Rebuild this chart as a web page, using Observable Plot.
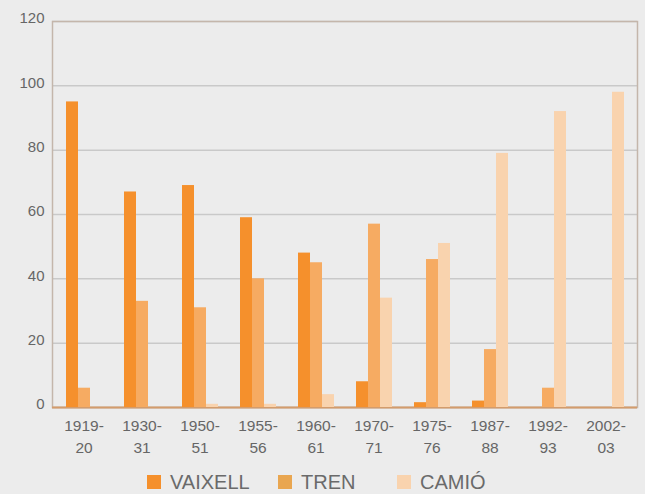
<!DOCTYPE html>
<html>
<head>
<meta charset="utf-8">
<script src="https://cdn.jsdelivr.net/npm/d3@7"></script>
<script src="https://cdn.jsdelivr.net/npm/@observablehq/plot@0.6"></script>
<style>
  html, body { margin: 0; padding: 0; background: #ececec; }
  body { width: 645px; height: 494px; overflow: hidden; font-family: "Liberation Sans", Arial, sans-serif; }
  #wrap { position: relative; width: 645px; height: 460px; }
  #wrap svg { position: absolute; left: 0; top: 0; }
  #legend { position: relative; height: 34px; color: #6a6a6a; font-size: 20px; }
  .item { position: absolute; top: 12px; display: flex; align-items: center; line-height: 20px; }
  .sw { width: 14px; height: 14px; margin-right: 9px; }
</style>
</head>
<body>
<div id="wrap"></div>
<div id="legend"></div>
<script>
const years = ["1919-20","1930-31","1950-51","1955-56","1960-61","1970-71","1975-76","1987-88","1992-93","2002-03"];
const series = ["VAIXELL","TREN","CAMIÓ"];
const vaixell = [95, 67, 69, 59, 48, 8, 1.5, 2, 0, 0];
const tren    = [6, 33, 31, 40, 45, 57, 46, 18, 6, 0];
const camio   = [0, 0, 1, 1, 4, 34, 51, 79, 92, 98];
const colors  = ["#f5902c", "#f6ab62", "#f9d3ae"];
const legendColors = ["#f5902c", "#e9a650", "#f9d3ae"];
const yTicks  = [0, 20, 40, 60, 80, 100, 120];

const seriesValues = [vaixell, tren, camio];
const data = [];
years.forEach((y, i) => series.forEach((s, j) => data.push({year: y, series: s, value: seriesValues[j][i]})));

const common = {
  width: 645, height: 460,
  marginLeft: 52, marginRight: 8, marginTop: 21, marginBottom: 53,
  style: {background: "transparent", fontFamily: "'Liberation Sans', Arial, sans-serif", color: "#666"}
};

const back = Plot.plot({
  ...common,
  x: {domain: [0, 1], axis: null},
  y: {domain: [0, 120], axis: null},
  marks: [
    Plot.gridY(yTicks, {stroke: "#c9c9c9", strokeOpacity: 1, strokeWidth: 1.5}),
    Plot.frame({stroke: "#c4b6ab", strokeWidth: 1.5}),
    Plot.ruleY([0], {stroke: "#d39c6c", strokeWidth: 2}),
    Plot.axisY(yTicks, {tickSize: 0, tickPadding: 8, fontSize: 15, fill: "#666", dy: -3, label: null})
  ]
});

const front = Plot.plot({
  ...common,
  fx: {domain: years, paddingInner: 0.36, paddingOuter: 0.18, label: null},
  x: {domain: series, padding: 0, axis: null},
  y: {domain: [0, 120], axis: null},
  color: {domain: series, range: colors},
  marks: [
    Plot.barY(data, {fx: "year", x: "series", y: "value", fill: "series"}),
    Plot.axisFx({anchor: "bottom", tickSize: 0, tickPadding: 8, fontSize: 15.5, fill: "#666", lineHeight: 1.4, label: null,
                 tickFormat: d => d.replace("-", "-\n")})
  ]
});

const wrap = document.getElementById("wrap");
wrap.appendChild(back);
wrap.appendChild(front);

const legend = document.getElementById("legend");
const lefts = [147, 278, 397];
series.forEach((s, j) => {
  const it = document.createElement("div");
  it.className = "item";
  it.style.left = lefts[j] + "px";
  const sw = document.createElement("div");
  sw.className = "sw";
  sw.style.background = legendColors[j];
  const t = document.createElement("span");
  t.textContent = s;
  it.appendChild(sw); it.appendChild(t);
  legend.appendChild(it);
});
</script>
</body>
</html>
